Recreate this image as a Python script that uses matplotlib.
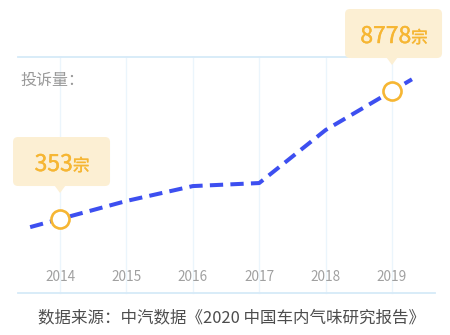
import matplotlib

matplotlib.use("Agg")  # headless backend
import matplotlib.pyplot as plt
import matplotlib.patheffects as pe
import matplotlib.transforms as mtransforms
from matplotlib.patches import FancyBboxPatch, Polygon

plt.rcParams["font.family"] = ["Noto Sans CJK SC", "DejaVu Sans"]

# --- data ------------------------------------------------------------------ #
years = [2014, 2015, 2016, 2017, 2018, 2019]
complaints = [353, 1540, 2520, 2720, 6210, 8778]
callout_idx = [0, 5]          # points that get a value bubble
unit = "宗"
y_title = "投诉量："
source = "数据来源：中汽数据《2020 中国车内气味研究报告》"

# --- styling ---------------------------------------------------------------- #
W, H, DPI = 450, 335, 100
BLUE = "#3d4ff0"
ORANGE = "#f6b633"
BUBBLE = "#fcefd3"
GRID = "#ebf5fc"
RULE = "#d6eaf8"

fig = plt.figure(figsize=(W / DPI, H / DPI), dpi=DPI)
ax = fig.add_axes([0, 0, 1, 1])
ax.set_axis_off()
ax.set_xlim(2013.096, 2019.873)
ax.set_ylim(-7282, 14768)


def fy(py):
    """pixel row (from top) -> axes fraction"""
    return 1 - py / H


# vertical grid + top/bottom rules
for yr in years:
    ax.axvline(yr, ymin=fy(293), ymax=fy(57), color=GRID, lw=1, zorder=0)
for py in (57, 293):
    ax.plot([18 / W, 435 / W], [fy(py), fy(py)], transform=ax.transAxes,
            color=RULE, lw=1.3, zorder=0)

# year labels
for yr in years:
    ax.text(yr, fy(277), str(yr), transform=ax.get_xaxis_transform(),
            ha="center", va="center", fontsize=9.8, color="#a0a0a0")

# dashed line, running a little past the first and last points
lead, tail = 0.45, 0.3
s0 = (complaints[1] - complaints[0]) / (years[1] - years[0])
s1 = (complaints[-1] - complaints[-2]) / (years[-1] - years[-2])
xs = [years[0] - lead] + years + [years[-1] + tail]
ys = [complaints[0] - s0 * lead] + complaints + [complaints[-1] + s1 * tail]
line, = ax.plot(xs, ys, color=BLUE, lw=2.9, zorder=2, solid_capstyle="butt")
line.set_dashes([3.3, 1.8])
line.set_dash_capstyle("butt")

# value bubbles
fig.canvas.draw()
renderer = fig.canvas.get_renderer()
heavier = [pe.withStroke(linewidth=0.3, foreground=ORANGE)]
for i in callout_idx:
    yr, v = years[i], complaints[i]
    ax.plot(yr, v, "o", ms=13, mfc="white", mec=ORANGE, mew=1.9, zorder=4)
    trans = mtransforms.Affine2D() + mtransforms.ScaledTranslation(yr, v, ax.transData)
    ax.add_patch(FancyBboxPatch((-47, 33), 97, 49, boxstyle="round,pad=0,rounding_size=5",
                                fc=BUBBLE, ec="none", transform=trans, zorder=3))
    ax.add_patch(Polygon([(-5.5, 33.5), (5.5, 33.5), (0, 26)], closed=True,
                         fc=BUBBLE, ec="none", transform=trans, zorder=3))
    num = ax.annotate(str(v), xy=(yr, v), xytext=(0, 48), textcoords="offset pixels",
                      ha="right", va="baseline", fontsize=16.5, color=ORANGE,
                      path_effects=heavier, zorder=5)
    u = ax.annotate(unit, xy=(yr, v), xytext=(0, 48), textcoords="offset pixels",
                    ha="left", va="baseline", fontsize=12, color=ORANGE,
                    path_effects=heavier, zorder=5)
    wd = num.get_window_extent(renderer).width
    wu = u.get_window_extent(renderer).width
    dx = 2 + (wd - wu) / 2
    num.xyann = (dx, 48)
    u.xyann = (dx, 48)

fig.text(20 / W, fy(80), y_title, ha="left", va="center", fontsize=11.5, color="#999999")
fig.text(232 / W, fy(318), source, ha="center", va="center", fontsize=11.9, color="#4d4d4d")

fig.savefig("out.png", dpi=DPI)
